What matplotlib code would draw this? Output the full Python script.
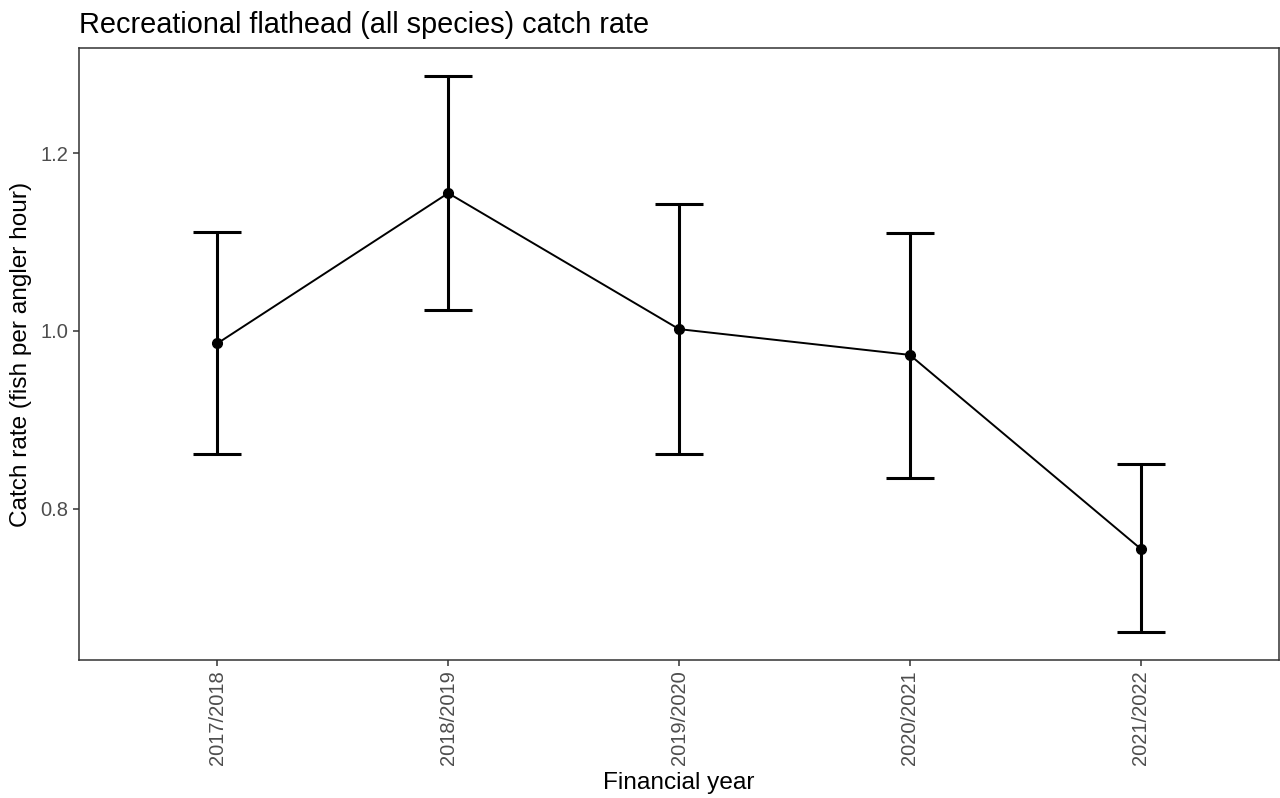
import numpy as np
import matplotlib.pyplot as plt

# Catch rate per financial year, with lower/upper confidence bounds
years = ["2017/2018", "2018/2019", "2019/2020", "2020/2021", "2021/2022"]
catch_rate = [0.986, 1.155, 1.002, 0.973, 0.755]
lower = [0.861, 1.023, 0.862, 0.834, 0.661]
upper = [1.111, 1.287, 1.143, 1.110, 0.850]

plt.rcParams["font.family"] = ["Liberation Sans", "DejaVu Sans"]

x = np.arange(1, len(years) + 1)
y = np.array(catch_rate)
yerr = np.vstack([y - np.array(lower), np.array(upper) - y])

fig = plt.figure(figsize=(12.8, 7.98), dpi=100)
ax = fig.add_axes([79 / 1280, 1 - 660 / 798, (1279 - 79) / 1280, (660 - 48) / 798])

ax.errorbar(x, y, yerr=yerr, fmt="none", ecolor="black", elinewidth=2.2,
            capsize=17, capthick=2.2, zorder=2)
ax.plot(x, y, color="black", linewidth=1.4, zorder=3)
ax.plot(x, y, "o", color="black", markersize=7, zorder=4)

lo, hi = min(lower), max(upper)
pad = 0.05 * (hi - lo)
ax.set_ylim(lo - pad, hi + pad)
ax.set_xlim(0.4, len(years) + 0.6)
ax.set_xticks(x)
ax.set_xticklabels(years, rotation=90)
ax.set_yticks([0.8, 1.0, 1.2])
ax.set_yticklabels(["0.8", "1.0", "1.2"])

for s in ax.spines.values():
    s.set_color("#333333")
    s.set_linewidth(1.1)
ax.tick_params(colors="#333333", width=1.1, length=4.5, labelsize=14.5,
               labelcolor="#4D4D4D", pad=3)

ax.set_xlabel("Financial year", fontsize=17.6, labelpad=5)
ax.set_ylabel("Catch rate (fish per angler hour)", fontsize=17.6, labelpad=6)
ax.set_title("Recreational flathead (all species) catch rate", fontsize=20.8,
             loc="left", pad=11)

fig.savefig("out.png", dpi=100)
